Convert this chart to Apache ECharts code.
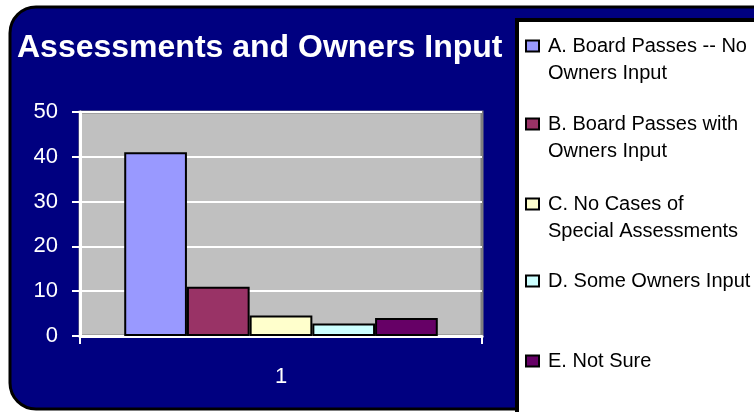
<!DOCTYPE html>
<html>
<head>
<meta charset="utf-8">
<script src="https://cdn.jsdelivr.net/npm/echarts@6/dist/echarts.min.js"></script>
<style>
  html, body { margin: 0; padding: 0; background: #ffffff; }
  #chart { width: 754px; height: 412px; }
</style>
</head>
<body>
<div id="chart"></div>
<script>
// Survey answers, one bar per answer group
const categories = ['1'];
const seriesNames = [
  'A. Board Passes -- No Owners Input',
  'B. Board Passes with Owners Input',
  'C. No Cases of Special Assessments',
  'D. Some Owners Input',
  'E. Not Sure'
];
// Legend text as it wraps in the legend box
const legendLabels = [
  'A. Board Passes -- No\nOwners Input',
  'B. Board Passes with\nOwners Input',
  'C. No Cases of\nSpecial Assessments',
  'D. Some Owners Input',
  'E. Not Sure'
];
const seriesValues = [41, 11, 4.6, 2.8, 4];
const seriesColors = ['#9999FF', '#993366', '#FFFFCC', '#CCFFFF', '#660066'];
const yTicks = { min: 0, max: 50, interval: 10 };

const chart = echarts.init(document.getElementById('chart'));

const FONT = '"Liberation Sans", Arial, sans-serif';
const LINE_H = 27;

const series = seriesNames.map((name, i) => ({
  name: name,
  type: 'bar',
  data: [seriesValues[i]],
  barGap: '0%',
  barCategoryGap: '22%',
  itemStyle: { color: seriesColors[i], borderColor: '#000000', borderWidth: 2 },
  z: 3
}));

// one legend block per entry; icon centre y of each row
const legendIconY = [46, 124, 204, 281, 361];
const legends = seriesNames.map((name, i) => {
  const twoLine = legendLabels[i].indexOf('\n') >= 0;
  // a leading blank line keeps the swatch level with the first text line
  const label = twoLine ? '\n' + legendLabels[i] : legendLabels[i];
  const blockH = twoLine ? LINE_H * 3 : LINE_H;
  return {
    data: [name],
    left: 525,
    top: legendIconY[i] - blockH / 2,
    itemWidth: 13,
    itemHeight: 11,
    itemGap: 0,
    padding: 0,
    icon: 'rect',
    itemStyle: { borderColor: '#000000', borderWidth: 2 },
    selectedMode: false,
    formatter: () => label,
    textStyle: {
      color: '#000000',
      fontFamily: FONT,
      fontSize: 20,
      lineHeight: LINE_H,
      padding: [0, 0, 0, 4]
    }
  };
});

chart.setOption({
  animation: false,
  backgroundColor: '#ffffff',
  graphic: [
    {
      type: 'rect', z: -10, silent: true,
      shape: { x: 10, y: 7, width: 770, height: 402, r: 26 },
      style: { fill: '#000080', stroke: '#000000', lineWidth: 3 }
    },
    {
      type: 'rect', z: -9, silent: true,
      shape: { x: 517, y: 20, width: 260, height: 420 },
      style: { fill: '#ffffff', stroke: '#000000', lineWidth: 4 }
    }
  ],
  title: {
    text: 'Assessments and Owners Input',
    left: 17,
    top: 32,
    padding: 0,
    textStyle: { color: '#ffffff', fontFamily: FONT, fontWeight: 'bold', fontSize: 32 }
  },
  legend: legends,
  grid: {
    left: 80, right: 272, top: 112, bottom: 76,
    show: true,
    backgroundColor: '#C0C0C0',
    borderColor: '#808080',
    borderWidth: 3
  },
  xAxis: {
    type: 'category',
    data: categories,
    boundaryGap: true,
    axisLine: { lineStyle: { color: '#ffffff', width: 3 } },
    axisTick: { show: true, length: 8, lineStyle: { color: '#ffffff', width: 2 } },
    axisLabel: { color: '#ffffff', fontFamily: FONT, fontSize: 22, margin: 30 }
  },
  yAxis: {
    type: 'value',
    min: yTicks.min, max: yTicks.max, interval: yTicks.interval,
    axisLine: { show: true, lineStyle: { color: '#ffffff', width: 3 } },
    axisTick: { show: true, length: 8, lineStyle: { color: '#ffffff', width: 2 } },
    axisLabel: { color: '#ffffff', fontFamily: FONT, fontSize: 22, margin: 22 },
    splitLine: { show: true, lineStyle: { color: '#ffffff', width: 2 } }
  },
  series: series
});
</script>
</body>
</html>
